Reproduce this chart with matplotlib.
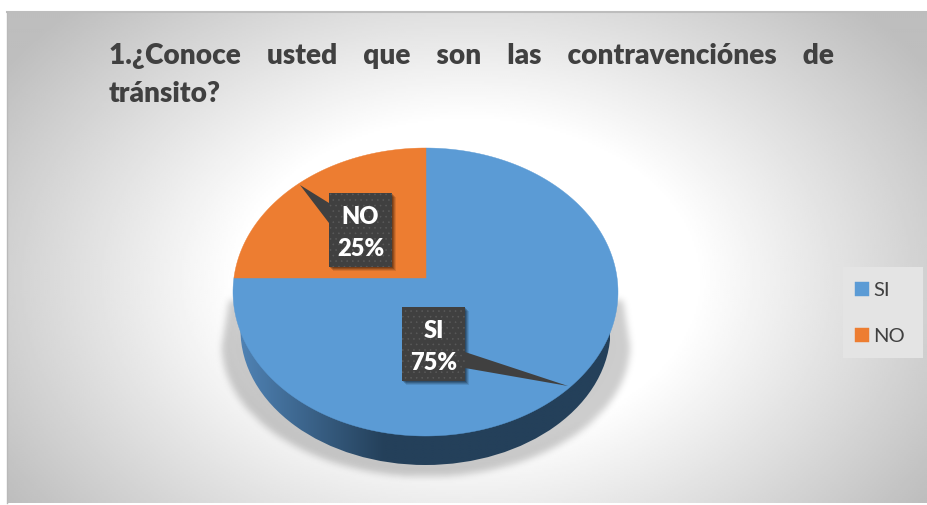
import numpy as np
import matplotlib
matplotlib.use("Agg")
import matplotlib.pyplot as plt
from matplotlib.patches import Rectangle, Polygon, Ellipse

categories = ["SI", "NO"]
shares = [75, 25]
slice_colors = ["#5B9BD5", "#ED7D31"]
title_text = ("1.¿Conoce    usted    que    son    las    contravenciónes    de\n"
              "tránsito?")

W, H = 927, 505
plt.rcParams["font.family"] = ["Lato", "DejaVu Sans"]
plt.rcParams["hatch.linewidth"] = 0.4
fig = plt.figure(figsize=(W / 100, H / 100), dpi=100, facecolor="white")
ax = fig.add_axes([0, 0, 1, 1])
ax.axis("off")

# background: radial grey-to-white gradient inside the chart area
X0, Y0, X1, Y1 = 7, 12, 927, 503
xx, yy = np.meshgrid(np.linspace(X0, X1, 460), np.linspace(Y0, Y1, 246))
d = np.sqrt(((xx - 467) / 460) ** 2 + ((yy - 280) / 320) ** 2)
bg = np.clip(1.0 - 0.36 * (d - 0.5), 0.745, 1.0)
ax.imshow(bg, cmap="gray", vmin=0, vmax=1, extent=(X0, X1, Y1, Y0), aspect="auto",
          zorder=0, interpolation="bilinear")
ax.plot([X0, X1], [Y0, Y0], color="#bdbdbd", lw=1.5, zorder=1)
ax.plot([X0 + 0.5, X0 + 0.5], [Y0, Y1], color="#b9b9b9", lw=1.0, zorder=1)

# pie geometry (pixels)
cx, cy, rx, ry = 425.5, 292, 192.5, 144
ax_, ay_ = 426, 278
low_cy, low_rx, low_ry = 330, 185, 135


def rim(theta):
    """Point where a ray from the apex at angle theta meets the ellipse."""
    dx, dy = np.cos(theta), -np.sin(theta)
    ox, oy = (ax_ - cx) / rx, (ay_ - cy) / ry
    a = (dx / rx) ** 2 + (dy / ry) ** 2
    b = 2 * (ox * dx / rx + oy * dy / ry)
    c = ox ** 2 + oy ** 2 - 1
    t = (-b + np.sqrt(b ** 2 - 4 * a * c)) / (2 * a)
    return ax_ + t * dx, ay_ + t * dy


# soft shadow beneath the pie: tapered sides above, ellipse below
sx, sy = np.meshgrid(np.arange(190, 662), np.arange(280, 500))
hw = 197 + 7 * (sy - 300) / 45
e_up = np.abs(sx - cx) / hw
e_low = np.sqrt(((sx - cx) / 204) ** 2 + ((sy - 345) / 131) ** 2)
mask = np.where(sy < 345, e_up, e_low) < 1
mask = mask & (sy >= 300)
kernel = np.exp(-0.5 * (np.arange(-12, 13) / 3.5) ** 2)
kernel /= kernel.sum()
sh = mask.astype(float)
sh = np.apply_along_axis(lambda v: np.convolve(v, kernel, mode="same"), 0, sh)
sh = np.apply_along_axis(lambda v: np.convolve(v, kernel, mode="same"), 1, sh)
rgba = np.zeros(sh.shape + (4,))
rgba[..., 3] = sh * 0.2
ax.imshow(rgba, extent=(190, 662, 500, 280), aspect="auto", zorder=1.5)

# side wall with horizontal gradient
wall_patch = Ellipse((cx, low_cy), 2 * low_rx, 2 * low_ry, fc="none", ec="none", zorder=2)
ax.add_patch(wall_patch)
gx = np.linspace(0, 1, 300)
c_light = np.array([0x4F, 0x82, 0xB4]) / 255
c_dark = np.array([0x24, 0x40, 0x5A]) / 255
mix = np.clip(gx / 0.39, 0, 1)[None, :, None]
wall_c = c_light * (1 - mix) + c_dark * mix
im = ax.imshow(wall_c, extent=(cx - low_rx, cx + low_rx, low_cy + low_ry, low_cy - low_ry),
               aspect="auto", zorder=2, interpolation="bilinear")
im.set_clip_path(wall_patch)

# slices, clockwise from the top
start = np.pi / 2
total = sum(shares)
handles = []
for name, val, col in zip(categories, shares, slice_colors):
    sweep = 2 * np.pi * val / total
    th = np.linspace(start, start - sweep, 300)
    pts = [rim(t) for t in th]
    poly = Polygon([(ax_, ay_)] + pts, closed=True, fc=col, ec=col, lw=0.3, zorder=3, label=name)
    ax.add_patch(poly)
    handles.append(poly)
    start -= sweep


# callout data labels
def callout(x0, y0, x1, y1, tip, base, text):
    w, h = x1 - x0, y1 - y0
    for off, a in ((5, 0.10), (4, 0.14), (3, 0.18), (2, 0.2)):
        ax.add_patch(Rectangle((x0 + off - 1, y0 + off - 1), w, h, fc="black", ec="none",
                               alpha=a, zorder=4))
    ax.add_patch(Polygon([tip, base[0], base[1]], closed=True, fc="#404040", ec="none", zorder=4.5))
    ax.add_patch(Rectangle((x0, y0), w, h, fc="#404040", ec="none", zorder=5))
    ax.add_patch(Rectangle((x0, y0), w, h, fc="none", ec="#5a5a5a", lw=0, hatch="...", zorder=5.1))
    ax.text((x0 + x1) / 2, (y0 + y1) / 2 + 3, text, color="white", fontsize=17, fontweight=800,
            ha="center", va="center", linespacing=1.55, zorder=6)


callout(329, 193, 392, 267, (300, 185), ((329, 203), (329, 223)),
        f"{categories[1]}\n{shares[1]}%")
callout(402, 307, 465, 381, (568, 386), ((465, 352), (465, 368)),
        f"{categories[0]}\n{shares[0]}%")

# title
ax.text(109, 102, title_text, color="#404040", fontsize=20.2, fontweight=800,
        ha="left", va="baseline", linespacing=1.58, zorder=6)

# legend
ax.add_patch(Rectangle((843, 267), 80, 91, fc="#e4e4e4", ec="none", zorder=5))
leg = ax.legend(handles=handles, loc="upper left", bbox_to_anchor=(855 / W, 1 - 282 / H),
                bbox_transform=fig.transFigure, frameon=False, fontsize=14.5,
                labelcolor="#404040", handlelength=0.7, handleheight=0.7, handletextpad=0.2,
                labelspacing=1.45, borderpad=0, borderaxespad=0)
leg.set_zorder(6)

ax.set_xlim(0, W)
ax.set_ylim(H, 0)
fig.savefig("out.png", dpi=100)
